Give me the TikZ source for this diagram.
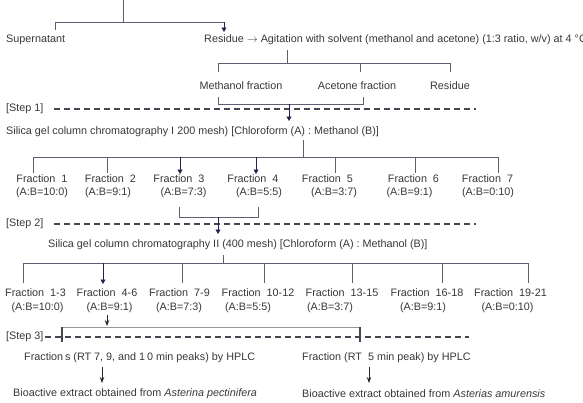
\documentclass[tikz,border=0pt]{standalone}
\usepackage{fontspec}
\setmainfont{Liberation Sans}
\usetikzlibrary{arrows.meta}
\definecolor{textc}{RGB}{55,55,60}
\definecolor{linec}{RGB}{95,95,115}
\definecolor{arrc}{RGB}{35,35,80}
\definecolor{dashc}{RGB}{70,70,80}
\definecolor{lightc}{RGB}{150,150,155}
\begin{document}
\begin{tikzpicture}[x=1pt,y=-1pt,
  font=\fontsize{10.8}{12}\selectfont,
  txt/.style={inner sep=0pt, text=textc},
  lbl/.style={txt, anchor=center},
  ln/.style={draw=linec, line width=0.9pt},
  arr/.style={draw=arrc, line width=0.9pt, -{Triangle[length=4.5pt,width=5pt]}},
  arrb/.style={draw=black!85, line width=0.9pt, -{Stealth[length=6pt,width=4.5pt]}},
  dsh/.style={draw=dashc, line width=1.2pt, dash pattern=on 6pt off 4pt},
  brk/.style={draw=lightc, line width=0.9pt},
  tick/.style={draw=dashc, line width=1.2pt}]
\useasboundingbox (0,0) rectangle (583,402);

% ---- top split
\coordinate (top) at (123,0);
\coordinate (j0) at (123,22);
\coordinate (j0l) at (55,22);
\coordinate (j0r) at (224,22);
\coordinate (sup-d) at (55,30);
\coordinate (res-d) at (224,32);
\node[txt,anchor=west] (sup) at (6,40) {Supernatant};
\node[txt,anchor=west] (res) at (204,40) {Residue $\rightarrow$ Agitation with solvent (methanol and acetone) (1:3 ratio, w/v) at 4 °C};
\draw[ln] (top) -- (j0);
\draw[ln] (sup-d) -- (j0l) -- (j0r);
\draw[arr] (j0r) -- (res-d);

% ---- solvent split
\coordinate (a0) at (287,50);
\coordinate (a1) at (287,63);
\node[lbl] (meth) at (241,86) {Methanol fraction};
\node[lbl] (acet) at (357,86) {Acetone fraction};
\node[lbl] (res2) at (450,86) {Residue};
\draw[ln] (a0) -- (a1);
\draw[ln] (218,72) -- (218,63) -- (450,63) -- (450,72);
\draw[ln] (360,63) -- (360,72);
% bracket
\coordinate (b1m) at (289,104);
\coordinate (b1e) at (289,121);
\draw[ln] (218,97) -- (218,104) -- (363,104) -- (363,97);
\node[txt,anchor=west] (s1) at (6,109) {[Step 1]};
\draw[dsh] (54,109) -- (476,109);
\draw[arr] (b1m) -- (b1e);
\node[txt,anchor=west] (sil1) at (6,132) {Silica gel column chromatography I 200 mesh) [Chloroform (A) : Methanol (B)]};

% ---- fractions 1-7
\draw[ln] (303,140) -- (303,157);
\draw[ln] (33,173) -- (33,157) -- (498,157) -- (498,173);
\foreach \x in {107,335,415} \draw[ln] (\x,157) -- (\x,173);
\foreach \x in {180,256} \draw[arr] (\x,157) -- (\x,174);
\node[lbl] (f1) at (42,179) {Fraction~~1};
\node[lbl] (f2) at (110.5,179) {Fraction~~2};
\node[lbl] (f3) at (179,179) {Fraction~~3};
\node[lbl] (f4) at (253,179) {Fraction~~4};
\node[lbl] (f5) at (327.5,179) {Fraction~~5};
\node[lbl] (f6) at (413.5,179) {Fraction~~6};
\node[lbl] (f7) at (487.5,179) {Fraction~~7};
\node[lbl] (r1) at (42,193) {(A:B=10:0)};
\node[lbl] (r2) at (108,193) {(A:B=9:1)};
\node[lbl] (r3) at (183.5,193) {(A:B=7:3)};
\node[lbl] (r4) at (259,193) {(A:B=5:5)};
\node[lbl] (r5) at (334,193) {(A:B=3:7)};
\node[lbl] (r6) at (409.5,193) {(A:B=9:1)};
\node[lbl] (r7) at (488,193) {(A:B=0:10)};
% bracket 2
\draw[ln] (179,207) -- (179,217) -- (258,217) -- (258,207);
\node[txt,anchor=west] (s2) at (6,224) {[Step 2]};
\draw[dsh] (54,224) -- (476,224);
\draw[arr] (218,217) -- (218,234);
\node[txt,anchor=west] (sil2) at (48,245) {Silica gel column chromatography II (400 mesh) [Chloroform (A) : Methanol (B)]};

% ---- fractions 1-3 ... 19-21
\draw[ln] (223,255) -- (223,263);
\draw[ln] (23,283) -- (23,263) -- (528,263) -- (528,283);
\foreach \x in {182,264,352,442} \draw[ln] (\x,263) -- (\x,283);
\draw[arr] (103,263) -- (103,284);
\node[lbl] (g1) at (35.5,293) {Fraction~~1-3};
\node[lbl] (g2) at (107,293) {Fraction~~4-6};
\node[lbl] (g3) at (179.5,293) {Fraction~~7-9};
\node[lbl] (g4) at (258,293) {Fraction~~10-12};
\node[lbl] (g5) at (342,293) {Fraction~~13-15};
\node[lbl] (g6) at (427,293) {Fraction~~16-18};
\node[lbl] (g7) at (510.5,293) {Fraction~~19-21};
\node[lbl] (q1) at (37.5,308) {(A:B=10:0)};
\node[lbl] (q2) at (109.5,308) {(A:B=9:1)};
\node[lbl] (q3) at (179,308) {(A:B=7:3)};
\node[lbl] (q4) at (248,308) {(A:B=5:5)};
\node[lbl] (q5) at (330,308) {(A:B=3:7)};
\node[lbl] (q6) at (423,308) {(A:B=9:1)};
\node[lbl] (q7) at (507.5,308) {(A:B=0:10)};
\draw[arrb] (107,315) -- (107,326);

% ---- step 3
\draw[brk] (62,327) -- (360,327);
\node[txt,anchor=west] (s3) at (6,337) {[Step 3]};
\draw[dsh] (45,337) -- (469,337);
\draw[tick] (62,327) -- (62,342);
\draw[tick] (360,327) -- (360,342);
\node[txt,anchor=west] (h1) at (24,358) {Fraction\,s (RT 7, 9, and 1\,0 min peaks) by HPLC};
\node[txt,anchor=west] (h2) at (302,358) {Fraction (RT~~5 min peak)~by HPLC};
\coordinate (h1d) at (102,367);
\coordinate (h2d) at (369,367);
\coordinate (e1u) at (102,383);
\coordinate (e2u) at (369,383);
\node[txt,anchor=west] (e1) at (13,394) {Bioactive extract obtained from \textit{Asterina pectinifera}};
\node[txt,anchor=west] (e2) at (302,394) {Bioactive extract obtained from \textit{Asterias amurensis}};
\draw[arrb] (h1d) -- (e1u);
\draw[arrb] (h2d) -- (e2u);
\end{tikzpicture}
\end{document}
